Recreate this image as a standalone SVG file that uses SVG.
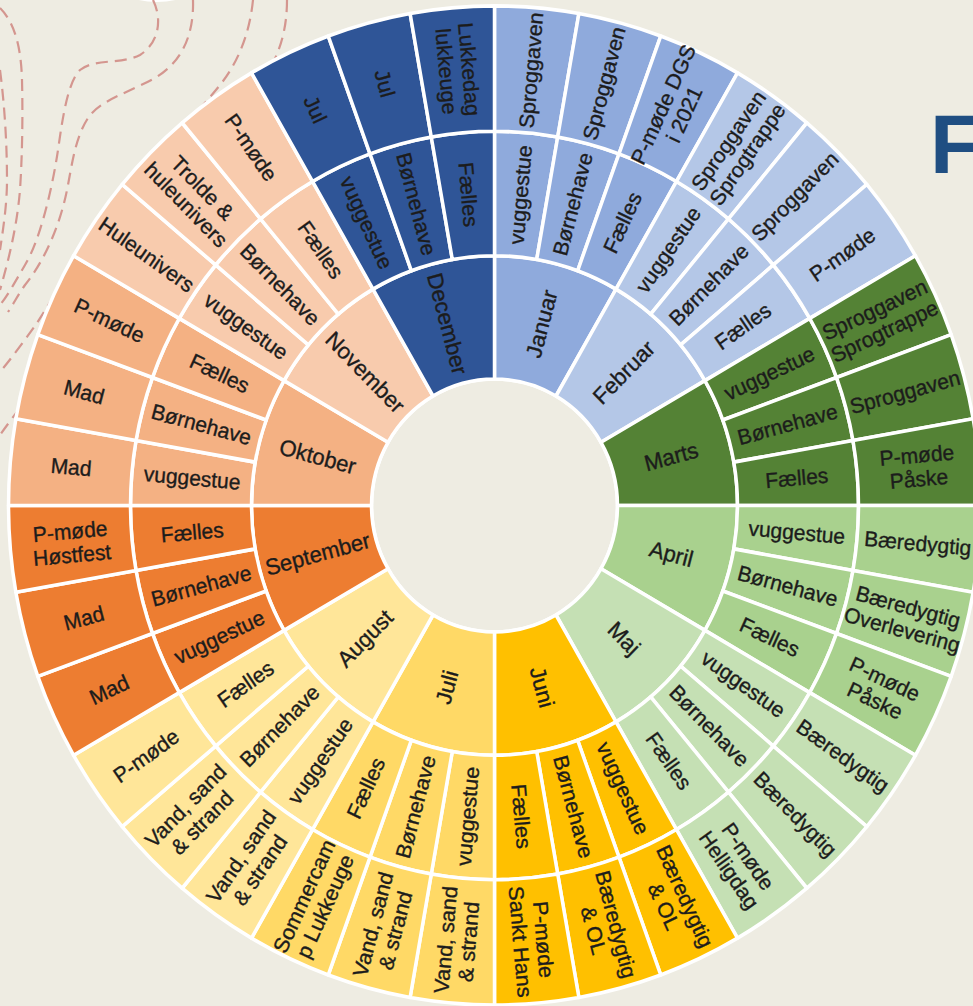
<svg xmlns="http://www.w3.org/2000/svg" xmlns:xlink="http://www.w3.org/1999/xlink" width="973" height="1006" viewBox="0 0 973 1006">
<style>
.seg{stroke:#ffffff;stroke-width:3.5;stroke-linejoin:round}
text{font-family:"Liberation Sans",Arial,sans-serif;fill:#1c1c1c;stroke:#1c1c1c;stroke-width:0.35;text-anchor:middle;dominant-baseline:central}
.m{font-size:22px}
.s{font-size:21px}
.deco{fill:none;stroke:#D4968F;stroke-width:2.2;stroke-dasharray:12 7}
.jan{fill:#8FAADC}.feb{fill:#B4C7E7}.mar{fill:#548235}.apr{fill:#A9D18E}
.maj{fill:#C5E0B4}.jun{fill:#FFC000}.jul{fill:#FFD966}.aug{fill:#FFE699}
.sep{fill:#ED7D31}.okt{fill:#F4B183}.nov{fill:#F8CBAD}.dec{fill:#2F5597}
</style>
<defs>
<path id="wm" d="M0,-243 A243,243 0 0 1 121.5,-210.44 L61.5,-106.52 A123,123 0 0 0 0,-123 Z"/>
<path id="wi" d="M0,-364 A364,364 0 0 1 63.208,-358.47 L42.197,-239.308 A243,243 0 0 0 0,-243 Z"/>
<path id="wo" d="M0,-486 A486,486 0 0 1 84.393,-478.617 L63.208,-358.47 A364,364 0 0 0 0,-364 Z"/>
</defs>
<rect width="973" height="1006" fill="#EEECE2"/>
<g id="decoration">
<ellipse cx="157" cy="-40" rx="60" ry="42" fill="#ffffff"/>
<path class="deco" d="M0,70 C4,100 7,140 7,180 C7,205 3,230 0,250"/>
<path class="deco" d="M0,8 C14,22 21,45 22,80 C23,120 22,160 20,190 C17,225 10,255 0,290"/>
<path class="deco" d="M153,0 C162,18 160,42 140,55 C120,65 95,58 80,70 C68,82 63,115 58,150 C52,190 40,240 25,265 C15,282 8,295 0,305"/>
<path class="deco" d="M193,0 C194,35 182,62 155,78 C130,92 100,100 88,118 C75,138 72,165 67,190 C60,225 45,260 25,285 C18,295 14,303 8,312"/>
<path class="deco" d="M253,0 C250,30 240,60 220,85 C200,110 180,130 150,165 C110,215 70,270 37,323 C25,340 10,360 0,372"/>
<path class="deco" d="M287,0 C287,25 282,45 272,65 C200,200 60,350 0,435"/>
</g>
<text x="930" y="173" style="font-size:84px;font-weight:bold;fill:#1F4E82;stroke:none;text-anchor:start;dominant-baseline:auto">F</text>
<g id="wheel" transform="translate(494.5,505.5) scale(1,1.028)">
<circle id="hub" r="123" fill="#EEECE2" stroke="#ffffff" stroke-width="3.5"/>

<g id="januar" class="jan">
<use xlink:href="#wm" class="seg"/>
<use xlink:href="#wi" class="seg"/><use xlink:href="#wi" class="seg" transform="rotate(10)"/><use xlink:href="#wi" class="seg" transform="rotate(20)"/>
<use xlink:href="#wo" class="seg"/><use xlink:href="#wo" class="seg" transform="rotate(10)"/><use xlink:href="#wo" class="seg" transform="rotate(20)"/>
<text class="m" transform="rotate(15) translate(0,-183) rotate(-90)">Januar</text>
<text class="s" transform="rotate(5) translate(0,-303.5) rotate(-90)">vuggestue</text>
<text class="s" transform="rotate(15) translate(0,-303.5) rotate(-90)">Børnehave</text>
<text class="s" transform="rotate(25) translate(0,-303.5) rotate(-90)">Fælles</text>
<text class="s" transform="rotate(5) translate(0,-425) rotate(-90)">Sproggaven</text>
<text class="s" transform="rotate(15) translate(0,-425) rotate(-90)">Sproggaven</text>
<text class="s" transform="rotate(25) translate(0,-425) rotate(-90)"><tspan x="0" dy="-0.55em">P-møde DGS</tspan><tspan x="0" dy="1.1em">i 2021</tspan></text>
</g>

<g id="februar" class="feb">
<use xlink:href="#wm" class="seg" transform="rotate(30)"/>
<use xlink:href="#wi" class="seg" transform="rotate(30)"/><use xlink:href="#wi" class="seg" transform="rotate(40)"/><use xlink:href="#wi" class="seg" transform="rotate(50)"/>
<use xlink:href="#wo" class="seg" transform="rotate(30)"/><use xlink:href="#wo" class="seg" transform="rotate(40)"/><use xlink:href="#wo" class="seg" transform="rotate(50)"/>
<text class="m" transform="rotate(45) translate(0,-183) rotate(-90)">Februar</text>
<text class="s" transform="rotate(35) translate(0,-303.5) rotate(-90)">vuggestue</text>
<text class="s" transform="rotate(45) translate(0,-303.5) rotate(-90)">Børnehave</text>
<text class="s" transform="rotate(55) translate(0,-303.5) rotate(-90)">Fælles</text>
<text class="s" transform="rotate(35) translate(0,-425) rotate(-90)"><tspan x="0" dy="-0.55em">Sproggaven</tspan><tspan x="0" dy="1.1em">Sprogtrappe</tspan></text>
<text class="s" transform="rotate(45) translate(0,-425) rotate(-90)">Sproggaven</text>
<text class="s" transform="rotate(55) translate(0,-425) rotate(-90)">P-møde</text>
</g>

<g id="marts" class="mar">
<use xlink:href="#wm" class="seg" transform="rotate(60)"/>
<use xlink:href="#wi" class="seg" transform="rotate(60)"/><use xlink:href="#wi" class="seg" transform="rotate(70)"/><use xlink:href="#wi" class="seg" transform="rotate(80)"/>
<use xlink:href="#wo" class="seg" transform="rotate(60)"/><use xlink:href="#wo" class="seg" transform="rotate(70)"/><use xlink:href="#wo" class="seg" transform="rotate(80)"/>
<text class="m" transform="rotate(75) translate(0,-183) rotate(-90)">Marts</text>
<text class="s" transform="rotate(65) translate(0,-303.5) rotate(-90)">vuggestue</text>
<text class="s" transform="rotate(75) translate(0,-303.5) rotate(-90)">Børnehave</text>
<text class="s" transform="rotate(85) translate(0,-303.5) rotate(-90)">Fælles</text>
<text class="s" transform="rotate(65) translate(0,-425) rotate(-90)"><tspan x="0" dy="-0.55em">Sproggaven</tspan><tspan x="0" dy="1.1em">Sprogtrappe</tspan></text>
<text class="s" transform="rotate(75) translate(0,-425) rotate(-90)">Sproggaven</text>
<text class="s" transform="rotate(85) translate(0,-425) rotate(-90)"><tspan x="0" dy="-0.55em">P-møde</tspan><tspan x="0" dy="1.1em">Påske</tspan></text>
</g>

<g id="april" class="apr">
<use xlink:href="#wm" class="seg" transform="rotate(90)"/>
<use xlink:href="#wi" class="seg" transform="rotate(90)"/><use xlink:href="#wi" class="seg" transform="rotate(100)"/><use xlink:href="#wi" class="seg" transform="rotate(110)"/>
<use xlink:href="#wo" class="seg" transform="rotate(90)"/><use xlink:href="#wo" class="seg" transform="rotate(100)"/><use xlink:href="#wo" class="seg" transform="rotate(110)"/>
<text class="m" transform="rotate(105) translate(0,-183) rotate(-90)">April</text>
<text class="s" transform="rotate(95) translate(0,-303.5) rotate(-90)">vuggestue</text>
<text class="s" transform="rotate(105) translate(0,-303.5) rotate(-90)">Børnehave</text>
<text class="s" transform="rotate(115) translate(0,-303.5) rotate(-90)">Fælles</text>
<text class="s" transform="rotate(95) translate(0,-425) rotate(-90)">Bæredygtig</text>
<text class="s" transform="rotate(105) translate(0,-425) rotate(-90)"><tspan x="0" dy="-0.55em">Bæredygtig</tspan><tspan x="0" dy="1.1em">Overlevering</tspan></text>
<text class="s" transform="rotate(115) translate(0,-425) rotate(-90)"><tspan x="0" dy="-0.55em">P-møde</tspan><tspan x="0" dy="1.1em">Påske</tspan></text>
</g>

<g id="maj" class="maj">
<use xlink:href="#wm" class="seg" transform="rotate(120)"/>
<use xlink:href="#wi" class="seg" transform="rotate(120)"/><use xlink:href="#wi" class="seg" transform="rotate(130)"/><use xlink:href="#wi" class="seg" transform="rotate(140)"/>
<use xlink:href="#wo" class="seg" transform="rotate(120)"/><use xlink:href="#wo" class="seg" transform="rotate(130)"/><use xlink:href="#wo" class="seg" transform="rotate(140)"/>
<text class="m" transform="rotate(135) translate(0,-183) rotate(-90)">Maj</text>
<text class="s" transform="rotate(125) translate(0,-303.5) rotate(-90)">vuggestue</text>
<text class="s" transform="rotate(135) translate(0,-303.5) rotate(-90)">Børnehave</text>
<text class="s" transform="rotate(145) translate(0,-303.5) rotate(-90)">Fælles</text>
<text class="s" transform="rotate(125) translate(0,-425) rotate(-90)">Bæredygtig</text>
<text class="s" transform="rotate(135) translate(0,-425) rotate(-90)">Bæredygtig</text>
<text class="s" transform="rotate(145) translate(0,-425) rotate(-90)"><tspan x="0" dy="-0.55em">P-møde</tspan><tspan x="0" dy="1.1em">Helligdag</tspan></text>
</g>

<g id="juni" class="jun">
<use xlink:href="#wm" class="seg" transform="rotate(150)"/>
<use xlink:href="#wi" class="seg" transform="rotate(150)"/><use xlink:href="#wi" class="seg" transform="rotate(160)"/><use xlink:href="#wi" class="seg" transform="rotate(170)"/>
<use xlink:href="#wo" class="seg" transform="rotate(150)"/><use xlink:href="#wo" class="seg" transform="rotate(160)"/><use xlink:href="#wo" class="seg" transform="rotate(170)"/>
<text class="m" transform="rotate(165) translate(0,-183) rotate(-90)">Juni</text>
<text class="s" transform="rotate(155) translate(0,-303.5) rotate(-90)">vuggestue</text>
<text class="s" transform="rotate(165) translate(0,-303.5) rotate(-90)">Børnehave</text>
<text class="s" transform="rotate(175) translate(0,-303.5) rotate(-90)">Fælles</text>
<text class="s" transform="rotate(155) translate(0,-425) rotate(-90)"><tspan x="0" dy="-0.55em">Bæredygtig</tspan><tspan x="0" dy="1.1em">&amp; OL</tspan></text>
<text class="s" transform="rotate(165) translate(0,-425) rotate(-90)"><tspan x="0" dy="-0.55em">Bæredygtig</tspan><tspan x="0" dy="1.1em">&amp; OL</tspan></text>
<text class="s" transform="rotate(175) translate(0,-425) rotate(-90)"><tspan x="0" dy="-0.55em">P-møde</tspan><tspan x="0" dy="1.1em">Sankt Hans</tspan></text>
</g>

<g id="juli" class="jul">
<use xlink:href="#wm" class="seg" transform="rotate(180)"/>
<use xlink:href="#wi" class="seg" transform="rotate(180)"/><use xlink:href="#wi" class="seg" transform="rotate(190)"/><use xlink:href="#wi" class="seg" transform="rotate(200)"/>
<use xlink:href="#wo" class="seg" transform="rotate(180)"/><use xlink:href="#wo" class="seg" transform="rotate(190)"/><use xlink:href="#wo" class="seg" transform="rotate(200)"/>
<text class="m" transform="rotate(195) translate(0,-183) rotate(90)">Juli</text>
<text class="s" transform="rotate(185) translate(0,-303.5) rotate(90)">vuggestue</text>
<text class="s" transform="rotate(195) translate(0,-303.5) rotate(90)">Børnehave</text>
<text class="s" transform="rotate(205) translate(0,-303.5) rotate(90)">Fælles</text>
<text class="s" transform="rotate(185) translate(0,-425) rotate(90)"><tspan x="0" dy="-0.55em">Vand, sand</tspan><tspan x="0" dy="1.1em">&amp; strand</tspan></text>
<text class="s" transform="rotate(195) translate(0,-425) rotate(90)"><tspan x="0" dy="-0.55em">Vand, sand</tspan><tspan x="0" dy="1.1em">&amp; strand</tspan></text>
<text class="s" transform="rotate(205) translate(0,-425) rotate(90)"><tspan x="0" dy="-0.55em">Sommercam</tspan><tspan x="0" dy="1.1em">p Lukkeuge</tspan></text>
</g>

<g id="august" class="aug">
<use xlink:href="#wm" class="seg" transform="rotate(210)"/>
<use xlink:href="#wi" class="seg" transform="rotate(210)"/><use xlink:href="#wi" class="seg" transform="rotate(220)"/><use xlink:href="#wi" class="seg" transform="rotate(230)"/>
<use xlink:href="#wo" class="seg" transform="rotate(210)"/><use xlink:href="#wo" class="seg" transform="rotate(220)"/><use xlink:href="#wo" class="seg" transform="rotate(230)"/>
<text class="m" transform="rotate(225) translate(0,-183) rotate(90)">August</text>
<text class="s" transform="rotate(215) translate(0,-303.5) rotate(90)">vuggestue</text>
<text class="s" transform="rotate(225) translate(0,-303.5) rotate(90)">Børnehave</text>
<text class="s" transform="rotate(235) translate(0,-303.5) rotate(90)">Fælles</text>
<text class="s" transform="rotate(215) translate(0,-425) rotate(90)"><tspan x="0" dy="-0.55em">Vand, sand</tspan><tspan x="0" dy="1.1em">&amp; strand</tspan></text>
<text class="s" transform="rotate(225) translate(0,-425) rotate(90)"><tspan x="0" dy="-0.55em">Vand, sand</tspan><tspan x="0" dy="1.1em">&amp; strand</tspan></text>
<text class="s" transform="rotate(235) translate(0,-425) rotate(90)">P-møde</text>
</g>

<g id="september" class="sep">
<use xlink:href="#wm" class="seg" transform="rotate(240)"/>
<use xlink:href="#wi" class="seg" transform="rotate(240)"/><use xlink:href="#wi" class="seg" transform="rotate(250)"/><use xlink:href="#wi" class="seg" transform="rotate(260)"/>
<use xlink:href="#wo" class="seg" transform="rotate(240)"/><use xlink:href="#wo" class="seg" transform="rotate(250)"/><use xlink:href="#wo" class="seg" transform="rotate(260)"/>
<text class="m" transform="rotate(255) translate(0,-183) rotate(90)">September</text>
<text class="s" transform="rotate(245) translate(0,-303.5) rotate(90)">vuggestue</text>
<text class="s" transform="rotate(255) translate(0,-303.5) rotate(90)">Børnehave</text>
<text class="s" transform="rotate(265) translate(0,-303.5) rotate(90)">Fælles</text>
<text class="s" transform="rotate(245) translate(0,-425) rotate(90)">Mad</text>
<text class="s" transform="rotate(255) translate(0,-425) rotate(90)">Mad</text>
<text class="s" transform="rotate(265) translate(0,-425) rotate(90)"><tspan x="0" dy="-0.55em">P-møde</tspan><tspan x="0" dy="1.1em">Høstfest</tspan></text>
</g>

<g id="oktober" class="okt">
<use xlink:href="#wm" class="seg" transform="rotate(270)"/>
<use xlink:href="#wi" class="seg" transform="rotate(270)"/><use xlink:href="#wi" class="seg" transform="rotate(280)"/><use xlink:href="#wi" class="seg" transform="rotate(290)"/>
<use xlink:href="#wo" class="seg" transform="rotate(270)"/><use xlink:href="#wo" class="seg" transform="rotate(280)"/><use xlink:href="#wo" class="seg" transform="rotate(290)"/>
<text class="m" transform="rotate(285) translate(0,-183) rotate(90)">Oktober</text>
<text class="s" transform="rotate(275) translate(0,-303.5) rotate(90)">vuggestue</text>
<text class="s" transform="rotate(285) translate(0,-303.5) rotate(90)">Børnehave</text>
<text class="s" transform="rotate(295) translate(0,-303.5) rotate(90)">Fælles</text>
<text class="s" transform="rotate(275) translate(0,-425) rotate(90)">Mad</text>
<text class="s" transform="rotate(285) translate(0,-425) rotate(90)">Mad</text>
<text class="s" transform="rotate(295) translate(0,-425) rotate(90)">P-møde</text>
</g>

<g id="november" class="nov">
<use xlink:href="#wm" class="seg" transform="rotate(300)"/>
<use xlink:href="#wi" class="seg" transform="rotate(300)"/><use xlink:href="#wi" class="seg" transform="rotate(310)"/><use xlink:href="#wi" class="seg" transform="rotate(320)"/>
<use xlink:href="#wo" class="seg" transform="rotate(300)"/><use xlink:href="#wo" class="seg" transform="rotate(310)"/><use xlink:href="#wo" class="seg" transform="rotate(320)"/>
<text class="m" transform="rotate(315) translate(0,-183) rotate(90)">November</text>
<text class="s" transform="rotate(305) translate(0,-303.5) rotate(90)">vuggestue</text>
<text class="s" transform="rotate(315) translate(0,-303.5) rotate(90)">Børnehave</text>
<text class="s" transform="rotate(325) translate(0,-303.5) rotate(90)">Fælles</text>
<text class="s" transform="rotate(305) translate(0,-425) rotate(90)">Huleunivers</text>
<text class="s" transform="rotate(315) translate(0,-425) rotate(90)"><tspan x="0" dy="-0.55em">Trolde &amp;</tspan><tspan x="0" dy="1.1em">huleunivers</tspan></text>
<text class="s" transform="rotate(325) translate(0,-425) rotate(90)">P-møde</text>
</g>

<g id="december" class="dec">
<use xlink:href="#wm" class="seg" transform="rotate(330)"/>
<use xlink:href="#wi" class="seg" transform="rotate(330)"/><use xlink:href="#wi" class="seg" transform="rotate(340)"/><use xlink:href="#wi" class="seg" transform="rotate(350)"/>
<use xlink:href="#wo" class="seg" transform="rotate(330)"/><use xlink:href="#wo" class="seg" transform="rotate(340)"/><use xlink:href="#wo" class="seg" transform="rotate(350)"/>
<text class="m" transform="rotate(345) translate(0,-183) rotate(90)">December</text>
<text class="s" transform="rotate(335) translate(0,-303.5) rotate(90)">vuggestue</text>
<text class="s" transform="rotate(345) translate(0,-303.5) rotate(90)">Børnehave</text>
<text class="s" transform="rotate(355) translate(0,-303.5) rotate(90)">Fælles</text>
<text class="s" transform="rotate(335) translate(0,-425) rotate(90)">Jul</text>
<text class="s" transform="rotate(345) translate(0,-425) rotate(90)">Jul</text>
<text class="s" transform="rotate(355) translate(0,-425) rotate(90)"><tspan x="0" dy="-0.55em">Lukkedag</tspan><tspan x="0" dy="1.1em">lukkeuge</tspan></text>
</g>
</g>
</svg>
